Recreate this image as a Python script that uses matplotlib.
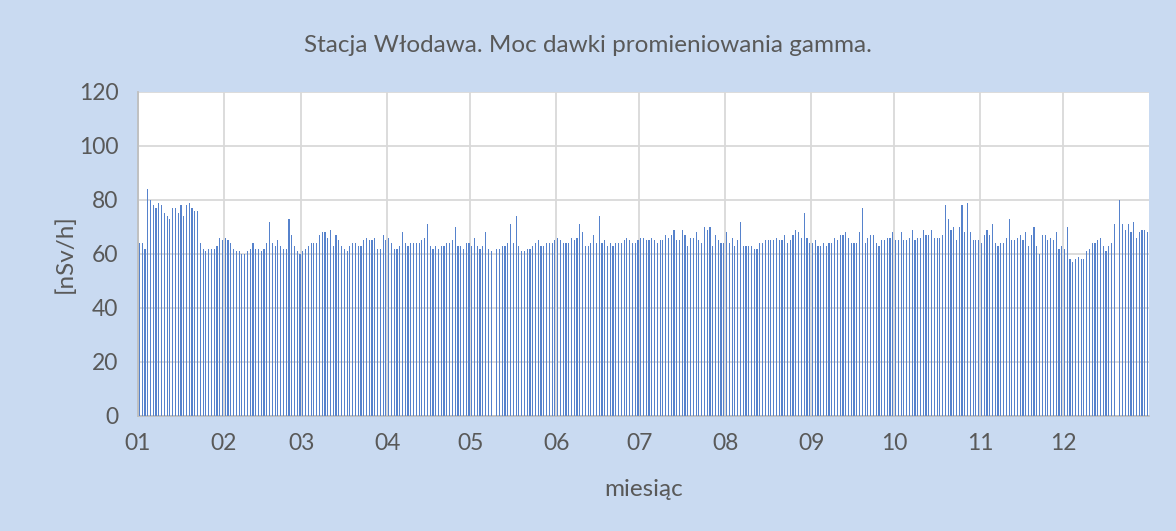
import numpy as np
import pandas as pd
import matplotlib
matplotlib.use('Agg')
import matplotlib.pyplot as plt

# Daily gamma dose rate [nSv/h], Włodawa station, one value per day (NaN = no data)
jan = [64, 64, 62, 84, 80, 78, 77, 79, 78, 75, 74, 73, 77, 77, 75, 78, 74, 78, 79, 77, 76, 76,
       64, 62, 61, 62, 62, 62, 63, 66, 65]
feb = [66, 65, 64, 62, 61, 61, 60, 60, 61, 62, 64, 62, 62, 61, 62, 64, 72, 64, 63, 65, 63, 62,
       62, 73, 67, 63, 61, 60]
mar = [61, 62, 63, 64, 64, 64, 67, 68, 68, 66, 69, 63, 67, 65, 63, 62, 61, 63, 64, 64, 63, 63,
       65, 66, 65, 65, 66, 62, 62, 67, 65]
apr = [66, 64, 62, 62, 63, 68, 64, 63, 64, 64, 64, 64, 65, 66, 71, 63, 62, 63, 62, 63, 63, 64,
       64, 65, 70, 63, 63, 62, 64, 64]
may = [63, 66, 63, 62, 63, 68, 62, 61, np.nan, 62, 62, 63, 63, 64, 71, 64, 74, 63, 61, 61, 62, 62,
       63, 64, 65, 63, 63, 64, 64, 64, 65]
jun = [66, 65, 64, 64, 64, 66, 65, 66, 71, 68, 63, 63, 64, 67, 64, 74, 64, 65, 63, 64, 63, 64,
       64, 64, 65, 66, 65, 64, 64, 65]
jul = [66, 66, 65, 65, 66, 65, 64, 65, 65, 67, 66, 67, 69, 65, 65, 69, 67, 63, 66, 66, 68, 65,
       64, 70, 69, 70, 63, 67, 65, 64, 64]
aug = [68, 64, 66, 63, 65, 72, 63, 63, 63, 63, 62, 62, 64, 64, 65, 65, 65, 65, 66, 65, 65, 67,
       64, 65, 67, 69, 68, 66, 75, 66, 64]
sep = [64, 65, 63, 63, 64, 63, 64, 64, 66, 65, 67, 67, 68, 66, 64, 64, 64, 68, 77, 64, 66, 67,
       67, 64, 63, 65, 65, 66, 66, 68]
oct_ = [65, 65, 68, 65, 65, 66, 69, 65, 66, 66, 69, 67, 67, 69, 66, 66, 66, 67, 78, 73, 69, 70,
        65, 70, 78, 68, 79, 68, 65, 65, 65]
nov = [64, 67, 69, 67, 71, 64, 63, 64, 64, 66, 73, 65, 65, 66, 67, 65, 68, 63, 67, 70, 63, 60,
       67, 67, 65, 66, 65, 68, 62, 63]
dec = [62, 70, 58, 57, 58, 59, 58, 58, 61, 62, 64, 64, 65, 66, 63, 61, 63, 64, 71, np.nan, 80,
       71, 69, 71, 68, 72, 66, 68, 69, 69, 68]

monthLabels = ['01', '02', '03', '04', '05', '06', '07', '08', '09', '10', '11', '12']

values = np.array(jan + feb + mar + apr + may + jun + jul + aug + sep + oct_ + nov + dec, dtype=float)
dayIndex = np.arange(len(values))
monthStarts = pd.date_range('2019-01-01', periods=12, freq='MS').dayofyear.values - 1

textColour = '#595959'
gridColour = '#D9D9D9'
barColour = '#5682CC'
bgColour = '#C9DAF1'

plt.rcParams['font.family'] = ['Lato', 'DejaVu Sans']

fig = plt.figure(figsize=(11.76, 5.31), dpi=100, facecolor=bgColour)
ax = fig.add_axes([138 / 1176, 1 - 416 / 531, (1149 - 138) / 1176, (416 - 92) / 531])
ax.set_facecolor('white')

ax.bar(dayIndex + 0.5, np.nan_to_num(values), width=0.42, color=barColour, linewidth=0, zorder=3)

ax.set_xlim(0, len(values))
ax.set_ylim(0, 120)
ax.set_yticks(np.arange(0, 121, 20))
ax.set_xticks(monthStarts)
ax.set_xticklabels(monthLabels)

ax.grid(True, color=gridColour, linewidth=1.3, zorder=0)
ax.tick_params(length=0, labelsize=16.5, colors=textColour)
ax.tick_params(axis='x', pad=12)
ax.tick_params(axis='y', pad=14)

for side in ['top', 'right']:
    ax.spines[side].set_visible(False)
for side in ['left', 'bottom']:
    ax.spines[side].set_color('#BFBFBF')
    ax.spines[side].set_linewidth(1.3)

ax.set_xlabel('miesiąc', fontsize=17.5, color=textColour, va='center')
ax.set_ylabel('[nSv/h]', fontsize=17.5, color=textColour, va='center')
ax.xaxis.set_label_coords(0.5, (416 - 489) / 324)
ax.yaxis.set_label_coords((65 - 138) / 1011, (416 - 254) / 324)
fig.text(0.5, 1 - 46 / 531, 'Stacja Włodawa. Moc dawki promieniowania gamma.', ha='center', va='center',
         fontsize=17.5, color=textColour)

fig.savefig('out.png', dpi=100, facecolor=bgColour)
